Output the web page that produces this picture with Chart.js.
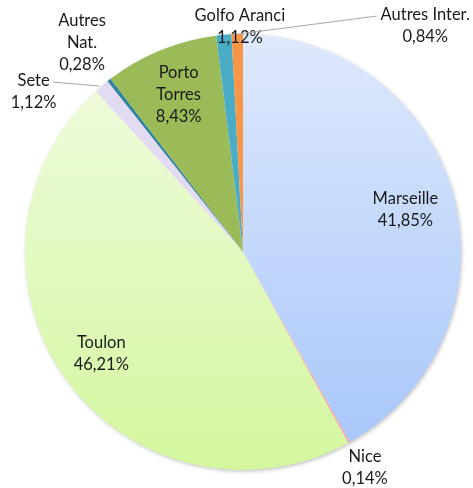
<!DOCTYPE html>
<html>
<head>
<meta charset="utf-8">
<script src="https://cdn.jsdelivr.net/npm/chart.js@4"></script>
<style>
  body { margin: 0; background: #fff; }
  #wrap { width: 473px; height: 488px; }
</style>
</head>
<body>
<div id="wrap"><canvas id="pieChart"></canvas></div>
<script>
// data
const ports = ['Marseille', 'Nice', 'Toulon', 'Sete', 'Autres Nat.', 'Porto Torres', 'Golfo Aranci', 'Autres Inter.'];
const shares = [41.85, 0.14, 46.21, 1.12, 0.28, 8.43, 1.12, 0.84];

// colours (top / bottom of the vertical gradient)
const colTop = ['#dee9fc', '#f4a6a0', '#f2fbe4', '#e3dbf2', '#31849b', '#9bbb59', '#4bacc6', '#f79646'];
const colBottom = ['#a6c5fa', '#f4a6a0', '#d3f79e', '#e3dbf2', '#31849b', '#9bbb59', '#4bacc6', '#f79646'];

// label placement: inside at a fraction of radius, or outside offset from the arc edge
const labelPos = [
    { f: 0.77 },
    { dx: 16, dy: 25 },
    { f: 0.80 },
    { dx: -68, dy: 6, line: true },
    { dx: -27, dy: -37, wrap: true },
    { f: 0.78, wrap: true },
    { dx: 16, dy: -8 },
    { dx: 188, dy: -8, line: true },
];

function pct(v) {
    return v.toFixed(2).replace('.', ',') + '%';
}

const FONT = '16.5px Lato';

const labelPlugin = {
    id: 'labels',
    beforeDatasetsDraw(chart) {
        const arc = chart.getDatasetMeta(0).data[0];
        const ctx = chart.ctx;
        ctx.save();
        ctx.shadowColor = 'rgba(0,0,0,0.28)';
        ctx.shadowBlur = 4;
        ctx.shadowOffsetX = 1;
        ctx.shadowOffsetY = 1.5;
        ctx.fillStyle = '#ffffff';
        ctx.beginPath();
        ctx.arc(arc.x, arc.y, arc.outerRadius - 0.5, 0, Math.PI * 2);
        ctx.fill();
        ctx.restore();
    },
    afterDatasetsDraw(chart) {
        const ctx = chart.ctx;
        const meta = chart.getDatasetMeta(0);
        ctx.save();
        ctx.font = FONT;
        ctx.fillStyle = '#1a1a1a';
        ctx.textAlign = 'center';
        ctx.textBaseline = 'middle';
        meta.data.forEach((el, i) => {
            const mid = (el.startAngle + el.endAngle) / 2;
            const p = labelPos[i];
            let x, y;
            const ex = el.x + Math.cos(mid) * el.outerRadius;
            const ey = el.y + Math.sin(mid) * el.outerRadius;
            if (p.f) {
                x = el.x + Math.cos(mid) * el.outerRadius * p.f;
                y = el.y + Math.sin(mid) * el.outerRadius * p.f;
            } else {
                x = ex + p.dx;
                y = ey + p.dy;
            }
            const lines = p.wrap ? ports[i].split(' ') : [ports[i]];
            lines.push(pct(shares[i]));
            const lh = 22;
            const y0 = y - (lines.length - 1) * lh / 2;
            if (p.line) {
                ctx.save();
                ctx.strokeStyle = '#a6a6a6';
                ctx.lineWidth = 1;
                const w = ctx.measureText(lines[0]).width;
                let sx = p.dx < 0 ? x + w / 2 + 3 : x - w / 2 - 4;
                ctx.beginPath();
                ctx.moveTo(sx, y0 + 1);
                ctx.lineTo(ex + (p.dx < 0 ? -2 : 1), ey);
                ctx.stroke();
                ctx.restore();
            }
            lines.forEach((t, k) => ctx.fillText(t, x, y0 + k * lh));
        });
        ctx.restore();
    }
};

new Chart(document.getElementById('pieChart').getContext('2d'), {
    type: 'pie',
    data: {
        labels: ports,
        datasets: [{
            data: shares,
            borderWidth: 0,
            backgroundColor: (c) => {
                const area = c.chart.chartArea;
                if (!area) return colTop[c.dataIndex];
                const g = c.chart.ctx.createLinearGradient(0, area.top, 0, area.bottom);
                g.addColorStop(0, colTop[c.dataIndex]);
                g.addColorStop(1, colBottom[c.dataIndex]);
                return g;
            },
        }],
    },
    options: {
        responsive: true,
        maintainAspectRatio: false,
        animation: false,
        events: [],
        layout: { padding: { left: 25, right: 12, top: 34, bottom: 18 } },
        plugins: {
            legend: { display: false },
            tooltip: { enabled: false },
        },
    },
    plugins: [labelPlugin],
});
</script>
</body>
</html>
